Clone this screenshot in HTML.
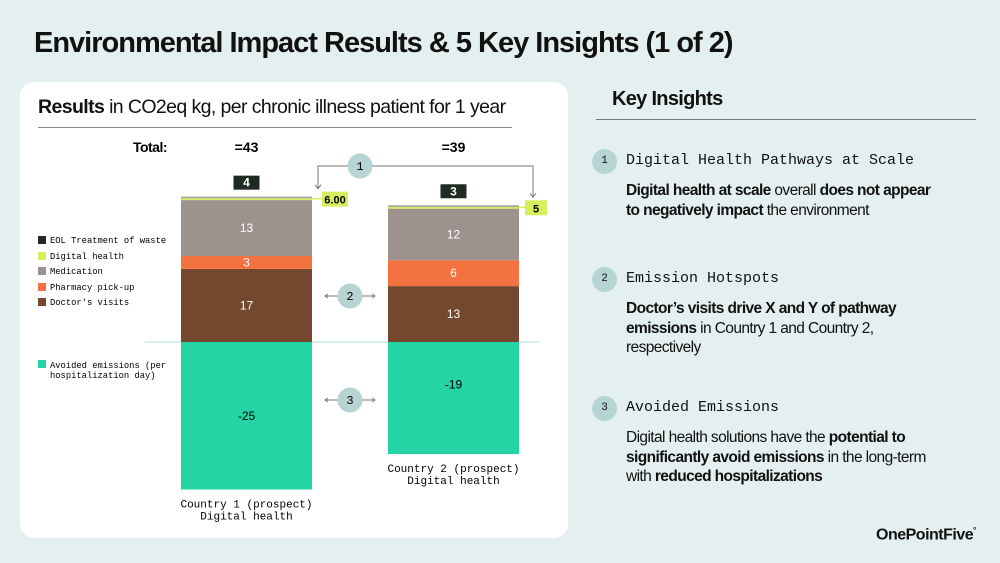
<!DOCTYPE html>
<html><head><meta charset="utf-8">
<style>
*{margin:0;padding:0;box-sizing:border-box}
body{width:1000px;height:563px;background:#e4eff0;font-family:"Liberation Sans",sans-serif;position:relative;overflow:hidden;color:#111}
.abs{position:absolute}
h1{position:absolute;left:34px;top:27px;font-size:29px;font-weight:bold;letter-spacing:-1px;color:#111}
.card{left:20px;top:82px;width:548px;height:456px;background:#fff;border-radius:14px}
.sub{left:38px;top:96px;font-size:19.5px;letter-spacing:-0.6px}
.ki{left:612px;top:88px;font-size:20px;font-weight:bold;letter-spacing:-0.7px}
.rule{left:596px;top:119px;width:380px;height:1px;background:#777}
.num{width:25px;height:25px;border-radius:50%;background:#b7d4d4;font-family:"Liberation Mono",monospace;font-size:11px;text-align:center;line-height:25px}
.ih{font-family:"Liberation Mono",monospace;font-size:15px;color:#111}
.it{font-size:15.5px;line-height:19.5px;letter-spacing:-0.6px;width:318px}
.logo{left:876px;top:526px;font-size:16px;font-weight:bold;letter-spacing:-0.5px}
</style></head><body>
<h1>Environmental Impact Results &amp; 5 Key Insights (1 of 2)</h1>
<div class="abs card"></div>
<div class="abs sub"><b>Results</b> in CO2eq kg, per chronic illness patient for 1 year</div>
<div class="abs" style="left:38px;top:127px;width:474px;height:1px;background:#888"></div>
<svg class="abs" style="left:0;top:0" width="1000" height="563" id="chart"></svg>

<div class="abs ki">Key Insights</div>
<div class="abs rule"></div>

<div class="abs num" style="left:592px;top:149px">1</div>
<div class="abs ih" style="left:626px;top:152px">Digital Health Pathways at Scale</div>
<div class="abs it" style="left:626px;top:181px"><b>Digital health at scale</b> overall <b>does not appear to negatively impact</b> the environment</div>

<div class="abs num" style="left:592px;top:267px">2</div>
<div class="abs ih" style="left:626px;top:270px">Emission Hotspots</div>
<div class="abs it" style="left:626px;top:299px"><b>Doctor’s visits drive X and Y of pathway emissions</b> in Country 1 and Country 2, respectively</div>

<div class="abs num" style="left:592px;top:396px">3</div>
<div class="abs ih" style="left:626px;top:399px">Avoided Emissions</div>
<div class="abs it" style="left:626px;top:428px;width:300px">Digital health solutions have the <b>potential to significantly avoid emissions</b> in the long-term with <b>reduced hospitalizations</b></div>

<div class="abs logo">OnePointFive<sup style="font-size:8px">°</sup></div>

<script>
const categories=["Country 1 (prospect)","Country 2 (prospect)"];
const doctorVisits=[17,13];
const pharmacyPickup=[3,6];
const medication=[13,12];
const digitalHealth=[6,5];
const eolWaste=[4,3];
const avoided=[-25,-19];
const totals=["=43","=39"];
const digitalLabels=["6.00","5"];

const NS="http://www.w3.org/2000/svg";
const svg=document.getElementById('chart');
const BASE=342, POS_SCALE=4.3, NEG_SCALE=5.9, THIN=0.4;
const barLeft=[181,388], BW=131;
function y(v){return v>=0?BASE-v*POS_SCALE:BASE-v*NEG_SCALE;}
function el(tag,attrs,parent){const e=document.createElementNS(NS,tag);for(const k in attrs)e.setAttribute(k,attrs[k]);(parent||svg).appendChild(e);return e;}
function txt(x,yy,s,attrs){const t=el('text',Object.assign({x:x,y:yy,'text-anchor':'middle','font-family':'Liberation Sans, sans-serif','font-size':12},attrs||{}));t.textContent=s;return t;}

const bl=el('line',{x1:145,x2:540,y1:BASE,y2:BASE,stroke:'#c9eee2','stroke-width':1.5});



const tl=txt(150,152,'Total:',{'font-size':14,'font-weight':'bold','letter-spacing':'-0.5'});



const tops=[];
categories.forEach((c,i)=>{
  const x=barLeft[i], cx=x+BW/2;
  let acc=0;
  const segs=[[doctorVisits[i],'#74482e','doctor-visits'],[pharmacyPickup[i],'#f47240','pharmacy-pickup'],[medication[i],'#9e928e','medication'],[THIN,'#d9ee5c','digital-health'],[THIN,'#a8a29c','eol-waste']];
  const sp=[];
  segs.forEach(s=>{
    const r=el('rect',{x:x,y:y(acc+s[0]),width:BW,height:y(acc)-y(acc+s[0]),fill:s[1]});
    
    
    sp.push([y(acc),y(acc+s[0])]);
    acc+=s[0];
  });
  const d=txt(cx,(sp[0][0]+sp[0][1])/2+4,String(doctorVisits[i]),{fill:'#fff'});
  
  
  const pm=(sp[1][0]+sp[1][1])/2;
  const p=txt(cx,pm+4,String(pharmacyPickup[i]),{fill:'#fff'});
  
  
  const m=txt(cx,(sp[2][0]+sp[2][1])/2+4,String(medication[i]),{fill:'#fff'});
  
  
  const top=y(acc);
  tops.push(top);
  const eb=el('rect',{x:cx-13,y:top-21,width:26,height:14,fill:'#1f2a22'});
  
  
  const et=txt(cx,top-10,String(eolWaste[i]),{fill:'#fff','font-weight':'bold'});
  
  
  const lx=x+BW+(i===0?10:6), lw=i===0?26:22;
  const ln=el('line',{x1:x+BW,x2:lx,y1:top+2,y2:top+2,stroke:'#d9ee5c','stroke-width':1.5});
  
  
  const db=el('rect',{x:lx,y:top-5,width:lw,height:15,fill:'#d9ee5c'});
  
  
  const dt=txt(lx+lw/2,top+7,digitalLabels[i],{'font-weight':'bold','font-size':11});
  
  
  const tt=txt(cx,152,totals[i],{'font-size':14,'font-weight':'bold'});
  
  
  const bot=y(avoided[i]);
  const a=el('rect',{x:x,y:BASE,width:BW,height:bot-BASE,fill:'#24d4a4'});
  
  
  const at=txt(cx,BASE+(bot-BASE)*(i===0?0.5:0.38)+4,String(avoided[i]));
  
  
  const cl1=txt(cx,bot+18,categories[i],{'font-family':'Liberation Mono, monospace','font-size':11});
  
  
  const cl2=txt(cx,bot+30,'Digital health',{'font-family':'Liberation Mono, monospace','font-size':11});
  
  
});

const con=el('path',{d:`M318,${tops[0]-8} V166 H533 V${tops[1]-8}`,fill:'none',stroke:'#777','stroke-width':1});


[[318,tops[0]-8],[533,tops[1]-8]].forEach((p,k)=>{const h=el('path',{d:`M${p[0]-3},${p[1]-4} L${p[0]},${p[1]} L${p[0]+3},${p[1]-4}`,fill:'none',stroke:'#777'});
  
  });
function badge(cx,cy,n,arrows){
  if(arrows){
    const a=el('path',{d:`M${cx-25},${cy} H${cx+25} M${cx-22},${cy-2} L${cx-25},${cy} L${cx-22},${cy+2} M${cx+22},${cy-2} L${cx+25},${cy} L${cx+22},${cy+2}`,stroke:'#777',fill:'none'});
    
    
  }
  const c=el('circle',{cx:cx,cy:cy,r:12.5,fill:'#b7d4d4'});
  
  
  const t=txt(cx,cy+4,String(n),{'font-family':'Liberation Mono, monospace','font-size':12});
  
  
}
badge(360,166,1,false);
badge(350,296,2,true);
badge(350,400,3,true);

const legend=[['EOL Treatment of waste','#1f2a22',243],['Digital health','#d9ee5c',259],['Medication','#9e928e',274],['Pharmacy pick-up','#f47240',290],["Doctor's visits",'#74482e',305]];
legend.forEach((l,k)=>{
  const r=el('rect',{x:38,y:l[2]-7,width:8,height:8,fill:l[1]});
  
  
  const t=txt(50,l[2],l[0],{'text-anchor':'start','font-family':'Liberation Mono, monospace','font-size':8.8});
  
  
});
const ar=el('rect',{x:38,y:360,width:8,height:8,fill:'#24d4a4'});


const a1=txt(50,368,'Avoided emissions (per',{'text-anchor':'start','font-family':'Liberation Mono, monospace','font-size':8.8});


const a2=txt(50,378,'hospitalization day)',{'text-anchor':'start','font-family':'Liberation Mono, monospace','font-size':8.8});


</script>
</body></html>
